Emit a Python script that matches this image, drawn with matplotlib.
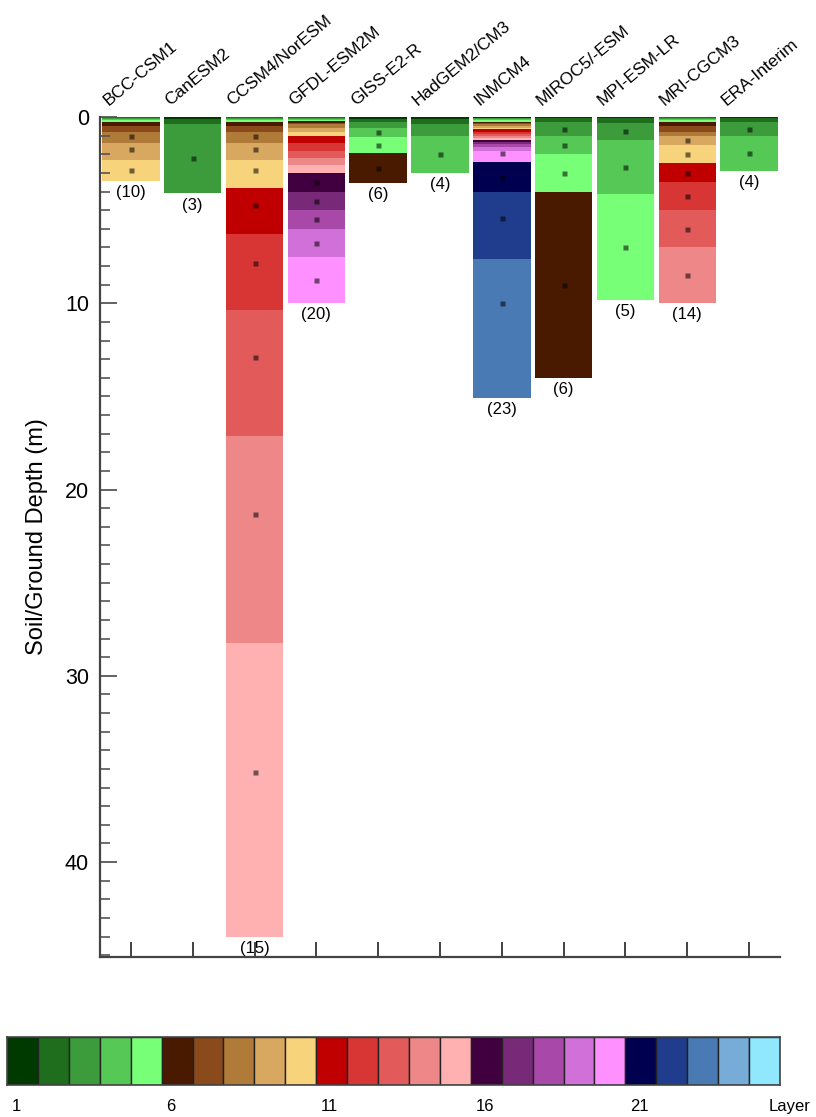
import numpy as np
import matplotlib
matplotlib.use("Agg")
import matplotlib.pyplot as plt
from matplotlib.colors import to_rgb

plt.rcParams['font.family'] = ['Liberation Sans', 'DejaVu Sans']

# ---------------- data ----------------
models = ["BCC-CSM1", "CanESM2", "CCSM4/NorESM", "GFDL-ESM2M", "GISS-E2-R",
          "HadGEM2/CM3", "INMCM4", "MIROC5/-ESM", "MPI-ESM-LR", "MRI-CGCM3",
          "ERA-Interim"]

# bottom depth (m) of each soil layer
bcc_bottoms = [0.0175, 0.0451, 0.0906, 0.1655, 0.2891, 0.4929, 0.8289, 1.3828, 2.2961, 3.43]
canesm_bottoms = [0.1, 0.35, 4.1]
ccsm_bottoms = [0.0175, 0.0451, 0.0906, 0.1655, 0.2891, 0.4929, 0.8289, 1.3828,
                2.2961, 3.8019, 6.2845, 10.3775, 17.1259, 28.252, 44.0]
gfdl_bottoms = [0.02, 0.06, 0.1, 0.15, 0.2, 0.3, 0.4, 0.6, 0.8, 1.0,
                1.4, 1.8, 2.2, 2.6, 3.0, 4.0, 5.0, 6.0, 7.5, 10.0]
giss_bottoms = [0.1, 0.27, 0.57, 1.07, 1.93, 3.52]
hadgem_bottoms = [0.1, 0.35, 1.0, 3.0]
inmcm_bottoms = [0.03, 0.07, 0.12, 0.18, 0.27, 0.33, 0.4, 0.48, 0.57, 0.67,
                 0.78, 0.9, 1.02, 1.13, 1.24, 1.35, 1.45, 1.6, 1.85, 2.4,
                 4.0, 7.6, 15.1]
miroc_bottoms = [0.05, 0.25, 1.0, 2.0, 4.0, 14.0]
mpi_bottoms = [0.065, 0.319, 1.232, 4.134, 9.834]
mri_bottoms = [0.02, 0.05, 0.1, 0.17, 0.25, 0.5, 0.8, 1.0, 1.5, 2.45,
               3.5, 5.0, 7.0, 10.0]
era_bottoms = [0.07, 0.28, 1.0, 2.89]

# visible node depths (m)
bcc_nodes = [1.038, 1.728, 2.865]
canesm_nodes = [2.225]
ccsm_nodes = [1.038, 1.728, 2.865, 4.74, 7.83, 12.9, 21.3, 35.18]
gfdl_nodes = [3.5, 4.5, 5.5, 6.75, 8.75]
giss_nodes = [0.82, 1.5, 2.73]
hadgem_nodes = [2.0]
inmcm_nodes = [1.95, 3.2, 5.4, 10.0]
miroc_nodes = [0.625, 1.5, 3.0, 9.0]
mpi_nodes = [0.775, 2.68, 6.98]
mri_nodes = [1.25, 2.0, 3.0, 4.25, 6.0, 8.5]
era_nodes = [0.64, 1.945]

layer_counts = [10, 3, 15, 20, 6, 4, 23, 6, 5, 14, 4]

layer_colors = [
    "#003a00", "#1e6e1e", "#3c9c3c", "#55c855", "#78ff78",
    "#4a1a00", "#8a4a1c", "#b07a38", "#d8a860", "#f7d47c",
    "#c00000", "#d83535", "#e25a5a", "#ee8888", "#ffb0b0",
    "#400040", "#782a78", "#a848a8", "#d070d8", "#ff90ff",
    "#000050", "#203c8c", "#4a7ab4", "#78acd8", "#90e8ff",
]
cbar_labels = ["1", "6", "11", "16", "21"]

all_bottoms = [bcc_bottoms, canesm_bottoms, ccsm_bottoms, gfdl_bottoms, giss_bottoms,
               hadgem_bottoms, inmcm_bottoms, miroc_bottoms, mpi_bottoms, mri_bottoms,
               era_bottoms]
all_nodes = [bcc_nodes, canesm_nodes, ccsm_nodes, gfdl_nodes, giss_nodes,
             hadgem_nodes, inmcm_nodes, miroc_nodes, mpi_nodes, mri_nodes, era_nodes]

# ---------------- figure ----------------
fig = plt.figure(figsize=(8.16, 11.17), dpi=100)
ax = fig.add_axes([100 / 816, 1 - 957 / 1117, 680 / 816, 840 / 1117])

bar_w = 0.93
for i, (bots, nodes) in enumerate(zip(all_bottoms, all_nodes)):
    bots = np.asarray(bots)
    tops = np.concatenate([[0.0], bots[:-1]])
    x = i + 0.5
    ax.bar(np.full(len(bots), x), bots - tops, bottom=tops, width=bar_w,
           color=layer_colors[:len(bots)], edgecolor='none', linewidth=0)
    for nd in nodes:
        k = int(np.searchsorted(bots, nd))
        k = min(k, len(bots) - 1)
        dc = tuple(c * 0.45 for c in to_rgb(layer_colors[k]))
        ax.plot(x, nd, 's', ms=3.6, color=dc, mec='none')
    ax.annotate(f"({layer_counts[i]})", xy=(x, bots[-1]), xytext=(0, -3),
                textcoords='offset points', ha='center', va='top', fontsize=12)
    ax.annotate(models[i], xy=(i + 0.5 - bar_w / 2, 0), xytext=(6, 6),
                textcoords='offset points', ha='left', va='bottom',
                rotation=40, rotation_mode='anchor', fontsize=12.5)

ax.set_xlim(0, 11)
ax.set_ylim(45.1, 0)
ax.set_xticks(np.arange(11) + 0.5)
ax.set_xticklabels([])
ax.tick_params(axis='x', direction='in', length=11, width=1.3, color='#333333')
ax.set_yticks([0, 10, 20, 30, 40])
ax.set_yticks(np.arange(0, 46, 1), minor=True)
ax.tick_params(axis='y', which='major', direction='in', length=12, width=1.3,
               color='#555555', labelsize=15.5, pad=8)
ax.tick_params(axis='y', which='minor', direction='in', length=7, width=1.2,
               color='#555555')
for s in ['top', 'right']:
    ax.spines[s].set_visible(False)
for s in ['left', 'bottom']:
    ax.spines[s].set_color('#444444')
    ax.spines[s].set_linewidth(1.6)
ax.set_ylabel("Soil/Ground Depth (m)", fontsize=17, labelpad=12)

# ---------------- colour bar ----------------
cax = fig.add_axes([7 / 816, 1 - 1085 / 1117, 773 / 816, 48 / 1117])
n = len(layer_colors)
cax.bar(np.arange(n) + 0.5, np.ones(n), width=1.0, bottom=0, color=layer_colors,
        edgecolor='#222222', linewidth=1.0)
cax.set_xlim(0, n)
cax.set_ylim(0, 1)
cax.set_xticks([])
cax.set_yticks([])
for s in cax.spines.values():
    s.set_color('#444444')
    s.set_linewidth(1.2)
for j, lab in enumerate(cbar_labels):
    cax.text(j * 5 + 0.15, -0.3, lab, ha='left', va='top', fontsize=12,
             transform=cax.transData)
cax.text(n + 0.3, -0.3, "Layer", ha='center', va='top', fontsize=12,
         transform=cax.transData)

fig.savefig("out.png", dpi=100)
